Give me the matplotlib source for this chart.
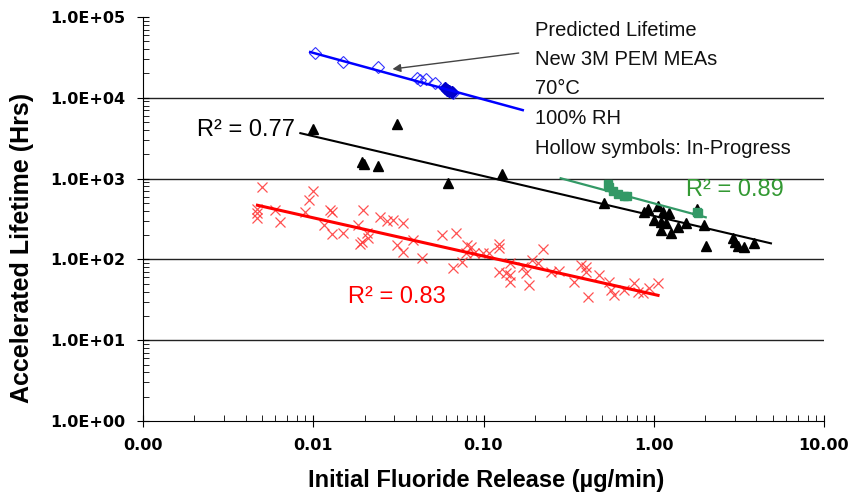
import matplotlib
matplotlib.use("Agg")
import matplotlib.pyplot as plt
from matplotlib.ticker import FuncFormatter, LogLocator, NullFormatter

plt.rcParams["font.family"] = ["Liberation Sans", "DejaVu Sans"]

#
# Data
#
red_x = [0.0050, 0.0099, 0.0095, 0.0047, 0.0047, 0.0047, 0.0060, 0.0064, 0.0090, 0.0115,
         0.0126, 0.0129, 0.0129, 0.0150, 0.0197, 0.0248, 0.0272, 0.0296, 0.0338, 0.0184,
         0.0208, 0.0211, 0.0194, 0.0189, 0.0312, 0.0338, 0.0387, 0.0438, 0.0574, 0.0694,
         0.0805, 0.0784, 0.0752, 0.0666, 0.0839, 0.0874, 0.0987, 0.1225, 0.1225, 0.107,
         0.144, 0.1225, 0.1347, 0.144, 0.144, 0.1695, 0.1767, 0.184, 0.194, 0.208,
         0.2225, 0.248, 0.276, 0.338, 0.372, 0.398, 0.398, 0.409, 0.475, 0.544,
         0.558, 0.582, 0.666, 0.763, 0.805, 0.861, 0.935, 1.056]
red_y = [782, 698, 540, 418, 373, 323, 406, 288, 383, 265,
         406, 383, 205, 211, 406, 332, 296, 305, 280, 265,
         211, 183, 163, 154, 150, 122, 173, 103, 199, 211,
         150, 119, 92, 77.6, 141, 119, 119, 154, 137, 119,
         89.5, 69.2, 67.3, 63.5, 52.0, 79.8, 67.3, 47.8, 97.5, 89.5,
         133, 69.2, 71.2, 52.0, 84.5, 79.8, 69.2, 33.9, 63.5, 52.0,
         41.4, 35.9, 41.4, 50.6, 39.1, 38.0, 43.8, 50.6]

black_x = [0.0100, 0.0312, 0.0194, 0.0199, 0.0241, 0.0622, 0.1276, 0.508, 0.873, 0.922,
           1.056, 1.13, 1.225, 1.0, 1.099, 1.177, 1.099, 1.259, 1.384, 1.542,
           1.79, 1.97, 2.02, 2.92, 2.99, 3.12, 3.38, 3.87]
black_y = [4090, 4720, 1597, 1500, 1425, 877, 1134, 496, 383, 418,
           455, 383, 373, 305, 288, 280, 230, 211, 250, 280,
           418, 265, 145, 183, 163, 145, 141, 158]

blue_open_x = [0.0103, 0.0150, 0.0241, 0.0409, 0.0426, 0.0462, 0.0522, 0.0666]
blue_open_y = [35800, 27700, 24000, 17540, 16570, 16900, 15210, 11430]
blue_filled_x = [0.0597, 0.0614, 0.0631, 0.0649]
blue_filled_y = [13200, 12450, 12100, 11770]

green_x = [0.536, 0.543, 0.574, 0.614, 0.666, 0.70, 1.79, 1.82]
green_y = [853, 782, 698, 641, 605, 605, 383, 373]

# trendline end points
blue_fit_x, blue_fit_y = [0.0096, 0.17], [36840, 7040]
black_fit_x, black_fit_y = [0.0084, 4.88], [3650, 158]
red_fit_x, red_fit_y = [0.0047, 1.06], [468, 35.9]
green_fit_x, green_fit_y = [0.284, 2.02], [1010, 332]

note_lines = ["Predicted Lifetime", "New 3M PEM MEAs", "70°C", "100% RH",
              "Hollow symbols: In-Progress"]

W, H = 851, 497
fig = plt.figure(figsize=(W / 100, H / 100), dpi=100)
ax = fig.add_axes([143 / W, 1 - 421 / H, (824 - 143) / W, (421 - 17) / H])
ax.set_xscale("log")
ax.set_yscale("log")
ax.set_xlim(0.001, 10)
ax.set_ylim(1, 1e5)

for yv in [1e1, 1e2, 1e3, 1e4]:
    ax.axhline(yv, color="#222222", lw=1.0, zorder=1)

ax.plot(red_x, red_y, "x", color="#FF3333", ms=7, mew=0.9, alpha=0.85, zorder=2)
ax.plot(red_fit_x, red_fit_y, color="#FF0000", lw=2.2, zorder=3)

ax.plot(black_x, black_y, "^", color="black", ms=6.5, zorder=2)
ax.plot(black_fit_x, black_fit_y, color="black", lw=1.5, zorder=3)

ax.plot(green_x, green_y, "s", color="#339966", ms=5.5, zorder=2)
ax.plot(green_fit_x, green_fit_y, color="#339966", lw=1.6, zorder=3)

ax.plot(blue_open_x, blue_open_y, "D", mfc="none", mec="#3333FF", ms=6.5, mew=0.8, zorder=2)
ax.plot(blue_filled_x, blue_filled_y, "D", color="#0000CC", ms=6.5, zorder=2)
ax.plot(blue_fit_x, blue_fit_y, color="#0000FF", lw=1.8, zorder=3)

# axes styling
ax.spines["top"].set_visible(False)
ax.spines["right"].set_visible(False)
ax.xaxis.set_major_locator(LogLocator(base=10, numticks=10))
ax.yaxis.set_major_locator(LogLocator(base=10, numticks=10))
ax.xaxis.set_minor_locator(LogLocator(base=10, subs=range(2, 10), numticks=20))
ax.yaxis.set_minor_locator(LogLocator(base=10, subs=range(2, 10), numticks=20))
ax.xaxis.set_major_formatter(FuncFormatter(lambda v, p: f"{v:.2f}"))
ax.yaxis.set_major_formatter(FuncFormatter(lambda v, p: f"{v:.1E}"))
ax.xaxis.set_minor_formatter(NullFormatter())
ax.yaxis.set_minor_formatter(NullFormatter())
ax.tick_params(axis="y", which="major", direction="inout", length=8, pad=9)
ax.tick_params(axis="x", which="major", direction="inout", length=8, pad=8)
ax.tick_params(which="minor", direction="in", length=4)
for lab in ax.get_xticklabels() + ax.get_yticklabels():
    lab.set_family("DejaVu Sans")
    lab.set_fontweight("bold")
    lab.set_fontsize(11.5)

fig.text(22 / W, 1 - 248 / H, "Accelerated Lifetime (Hrs)", rotation=90,
         ha="center", va="center", fontsize=18, fontweight="bold")
fig.text(486 / W, 1 - 481 / H, "Initial Fluoride Release (µg/min)",
         ha="center", va="center", fontsize=17, fontweight="bold")

# R^2 labels
ax.text(0.00208, 3980, "R² = 0.77", color="black", fontsize=17, ha="left", va="center")
ax.text(1.54, 718, "R² = 0.89", color="#339933", fontsize=17, ha="left", va="center")
ax.text(0.0161, 33.9, "R² = 0.83", color="#FF0000", fontsize=17, ha="left", va="center")

# note block and arrow
for i, line in enumerate(note_lines):
    fig.text(535 / W, 1 - (30 + 29.5 * i) / H, line, fontsize=14.5,
             ha="left", va="center", color="#111111")
ax.annotate("", xy=(0.0292, 22700), xytext=(0.161, 35800),
            arrowprops=dict(arrowstyle="-|>", color="#444444", lw=1.0,
                            mutation_scale=12, shrinkA=0, shrinkB=0))

fig.savefig("out.png", dpi=100)
